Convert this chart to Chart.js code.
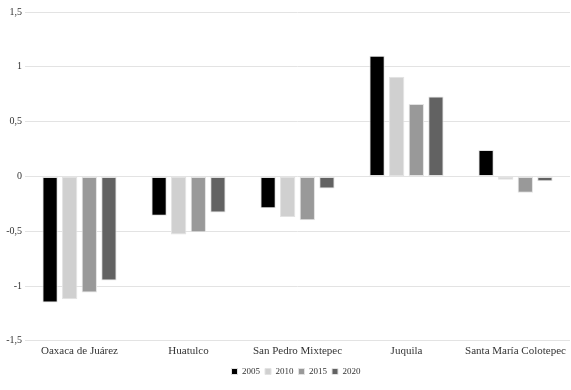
<!DOCTYPE html>
<html>
<head>
<meta charset="utf-8">
<script src="https://cdn.jsdelivr.net/npm/chart.js@4/dist/chart.umd.min.js"></script>
<style>
html,body{margin:0;padding:0;background:#fff;}
#wrap{width:571px;height:390px;}
</style>
</head>
<body>
<div id="wrap"><canvas id="c" width="571" height="390"></canvas></div>
<script>
const categories = ["Oaxaca de Juárez", "Huatulco", "San Pedro Mixtepec", "Juquila", "Santa María Colotepec"];
const seriesNames = ["2005", "2010", "2015", "2020"];
const v2005 = [-1.15, -0.36, -0.29, 1.10, 0.24];
const v2010 = [-1.12, -0.53, -0.37, 0.91, -0.03];
const v2015 = [-1.06, -0.51, -0.40, 0.66, -0.15];
const v2020 = [-0.95, -0.33, -0.11, 0.73, -0.045];
const yTicks = [-1.5, -1, -0.5, 0, 0.5, 1, 1.5];
const colors = ["#000000", "#d0d0d0", "#999999", "#626262"];

const values = [v2005, v2010, v2015, v2020];
const datasets = seriesNames.map((n, i) => ({
  label: n,
  data: values[i],
  backgroundColor: colors[i],
  borderColor: "#e2e2e2",
  borderWidth: 1,
  borderSkipped: false,
  categoryPercentage: 0.72,
  barPercentage: 0.78
}));

const shiftLegend = {
  id: 'shiftLegend',
  afterLayout(chart) {
    const l = chart.legend;
    if (l) { l.left += 9; l.right += 9; }
  }
};

const fontFam = "'Liberation Serif', 'DejaVu Serif', serif";
new Chart(document.getElementById('c'), {
  type: 'bar',
  data: { labels: categories, datasets },
  plugins: [shiftLegend],
  options: {
    responsive: false,
    animation: false,
    layout: { padding: { top: 12, right: 1, left: 4, bottom: 4 } },
    plugins: {
      legend: {
        position: 'bottom',
        padding: 4,
        labels: {
          boxWidth: 6, boxHeight: 6, padding: 5,
          color: '#333',
          font: { family: fontFam, size: 9 }
        }
      },
      tooltip: { enabled: false }
    },
    scales: {
      x: {
        grid: { display: false, drawTicks: false },
        border: { display: false },
        ticks: { color: '#333', font: { family: fontFam, size: 11 }, padding: 4, maxRotation: 0 }
      },
      y: {
        min: -1.5, max: 1.5,
        afterBuildTicks: (s) => { s.ticks = yTicks.map(v => ({ value: v })); },
        afterFit: (s) => { s.width = 21; },
        grid: { color: '#e3e3e3', drawTicks: false, lineWidth: 1 },
        border: { display: false },
        ticks: {
          color: '#333', padding: 3,
          font: { family: fontFam, size: 10 },
          callback: (v) => String(v).replace('.', ',')
        }
      }
    }
  }
});
</script>
</body>
</html>
